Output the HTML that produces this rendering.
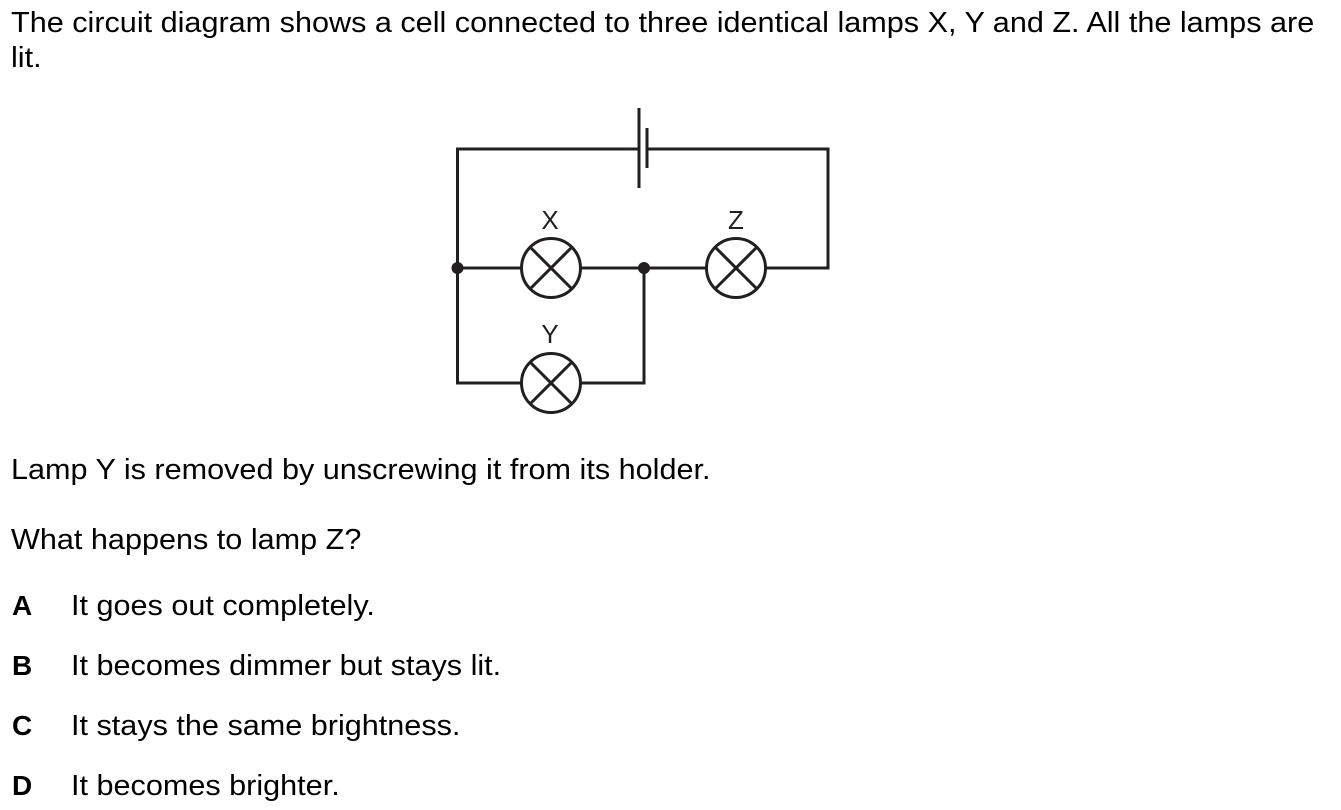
<!DOCTYPE html>
<html><head><style>
body{margin:0;width:1341px;height:810px;background:#fff;position:relative;font-family:"Liberation Sans",Arial,sans-serif;color:#000;overflow:hidden}
.t{position:absolute;font-size:29px;white-space:nowrap;line-height:30px;transform:scaleX(1.055);transform-origin:0 0}
.l{position:absolute;font-size:28px;font-weight:bold;left:12px;line-height:30px}
</style></head><body>
<div class="t" style="left:11px;top:8px">The circuit diagram shows a cell connected to three identical lamps X, Y and Z. All the lamps are</div>
<div class="t" style="left:11px;top:43px">lit.</div>
<svg style="position:absolute;left:0;top:0" width="1341" height="810">
<g stroke="#231f20" stroke-width="3" fill="none">
<polyline points="639,149 457.5,149 457.5,383 521,383"/>
<polyline points="647,149 828,149 828,268 766,268"/>
<line x1="639" y1="108" x2="639" y2="188"/>
<line x1="647" y1="128" x2="647" y2="168"/>
<line x1="457.5" y1="268" x2="521" y2="268"/>
<line x1="581" y1="268" x2="706" y2="268"/>
<polyline points="581,383 644,383 644,268"/>
<circle cx="551" cy="268" r="29.5"/><line x1="530" y1="247" x2="572" y2="289"/><line x1="572" y1="247" x2="530" y2="289"/>
<circle cx="736" cy="268" r="29.5"/><line x1="715" y1="247" x2="757" y2="289"/><line x1="757" y1="247" x2="715" y2="289"/>
<circle cx="551" cy="383" r="29.5"/><line x1="530" y1="362" x2="572" y2="404"/><line x1="572" y1="362" x2="530" y2="404"/>
</g>
<circle cx="457.5" cy="268" r="6" fill="#231f20"/>
<circle cx="644" cy="268" r="6" fill="#231f20"/>
<g font-family="Liberation Sans,Arial,sans-serif" font-size="26" fill="#231f20" text-anchor="middle">
<text x="550" y="229">X</text><text x="736" y="229">Z</text><text x="550" y="343">Y</text>
</g>
</svg>
<div class="t" style="left:11px;top:455px">Lamp Y is removed by unscrewing it from its holder.</div>
<div class="t" style="left:11px;top:525px">What happens to lamp Z?</div>
<div class="l" style="top:591px">A</div><div class="t" style="left:71px;top:591px">It goes out completely.</div>
<div class="l" style="top:651px">B</div><div class="t" style="left:71px;top:651px">It becomes dimmer but stays lit.</div>
<div class="l" style="top:711px">C</div><div class="t" style="left:71px;top:711px">It stays the same brightness.</div>
<div class="l" style="top:771px">D</div><div class="t" style="left:71px;top:771px">It becomes brighter.</div>
</body></html>
